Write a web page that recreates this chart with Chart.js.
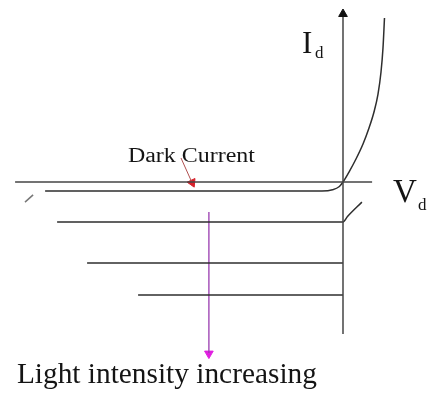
<!DOCTYPE html>
<html>
<head>
<meta charset="utf-8">
<script src="https://cdn.jsdelivr.net/npm/chart.js@4/dist/chart.umd.min.js"></script>
<style>
  html, body { margin: 0; padding: 0; background: #fff; }
  #c { display: block; }
</style>
</head>
<body>
<canvas id="c" width="433" height="394"></canvas>
<script>
// photodiode I-V sketch, arbitrary units (V_d across, I_d up)
var darkCurve = [
  {x: -9.93, y: -0.3}, {x: -0.7, y: -0.3}, {x: -0.35, y: -0.26}, {x: -0.12, y: -0.15},
  {x: 0, y: 0}, {x: 0.2, y: 0.333}, {x: 0.433, y: 0.767}, {x: 0.667, y: 1.267},
  {x: 0.867, y: 1.8}, {x: 1.033, y: 2.333}, {x: 1.167, y: 2.933}, {x: 1.267, y: 3.667},
  {x: 1.333, y: 4.467}, {x: 1.383, y: 5.467}
];
var breakdownTick = [{x: -10.6, y: -0.67}, {x: -10.33, y: -0.43}];
var light1 = [{x: -9.53, y: -1.33}, {x: 0, y: -1.33}, {x: 0.15, y: -1.15}, {x: 0.63, y: -0.67}];
var light2 = [{x: -8.53, y: -2.7}, {x: 0, y: -2.7}];
var light3 = [{x: -6.83, y: -3.77}, {x: 0, y: -3.77}];

var vAxis = [{x: -10.93, y: 0}, {x: 0.97, y: 0}];
var iAxis = [{x: 0, y: -5.07}, {x: 0, y: 5.5}];
var iArrowHead = [{x: 0, y: 5.6}];

var lightArrow = [{x: -4.47, y: -1.0}, {x: -4.47, y: -5.7}];
var lightArrowHead = [{x: -4.47, y: -5.72}];
var darkPointer = [{x: -5.4, y: 0.8}, {x: -5.05, y: 0.02}];
var darkPointerHead = [{x: -5.03, y: -0.02}];

var labels = [
  {text: 'I', x: -1.37, y: 4.3, size: 31},
  {text: 'd', x: -0.93, y: 4.12, size: 17},
  {text: 'V', x: 1.67, y: -0.67, size: 33},
  {text: 'd', x: 2.5, y: -0.93, size: 17},
  {text: 'Dark Current', x: -7.17, y: 0.67, size: 20, width: 127},
  {text: 'Light intensity increasing', x: -10.87, y: -6.7, size: 29, width: 300}
];

var ink = '#2e2e2e';

function line(data, color, width, smooth) {
  return {data: data, showLine: true, borderColor: color, borderWidth: width,
    pointRadius: 0, fill: false, tension: smooth ? 0.4 : 0,
    cubicInterpolationMode: smooth ? 'monotone' : 'default'};
}
function head(data, color, r, rot) {
  return {data: data, showLine: false, pointStyle: 'triangle', pointRadius: r,
    pointRotation: rot, backgroundColor: color, borderColor: color, borderWidth: 1};
}

var textPlugin = {
  id: 'sketchText',
  afterDatasetsDraw: function(chart) {
    var ctx = chart.ctx, sx = chart.scales.x, sy = chart.scales.y;
    ctx.save();
    ctx.fillStyle = '#141414';
    ctx.textBaseline = 'alphabetic';
    labels.forEach(function(l) {
      ctx.font = l.size + 'px "Liberation Serif", "Times New Roman", serif';
      var px = sx.getPixelForValue(l.x), py = sy.getPixelForValue(l.y);
      if (l.width) {
        var w = ctx.measureText(l.text).width;
        ctx.save();
        ctx.translate(px, py);
        ctx.scale(l.width / w, 1);
        ctx.fillText(l.text, 0, 0);
        ctx.restore();
      } else {
        ctx.fillText(l.text, px, py);
      }
    });
    ctx.restore();
  }
};

new Chart(document.getElementById('c'), {
  type: 'scatter',
  data: {
    datasets: [
      line(vAxis, '#444', 1.5),
      line(iAxis, '#444', 1.5),
      head(iArrowHead, '#111', 5, 0),
      line(darkCurve, ink, 1.5, true),
      line(breakdownTick, '#777', 1.5),
      line(light1, ink, 1.5, true),
      line(light2, ink, 1.5),
      line(light3, ink, 1.5),
      line(lightArrow, '#9a3cb0', 1.3),
      head(lightArrowHead, '#e020e0', 5, 180),
      line(darkPointer, '#b05050', 1),
      head(darkPointerHead, '#d8202a', 5, 155)
    ]
  },
  options: {
    responsive: false,
    animation: false,
    events: [],
    layout: {padding: 0, autoPadding: false},
    plugins: {legend: {display: false}, tooltip: {enabled: false}},
    scales: {
      x: {type: 'linear', display: false, min: -11.4333, max: 3.0},
      y: {type: 'linear', display: false, min: -7.0667, max: 6.0667}
    }
  },
  plugins: [textPlugin]
});
</script>
</body>
</html>
